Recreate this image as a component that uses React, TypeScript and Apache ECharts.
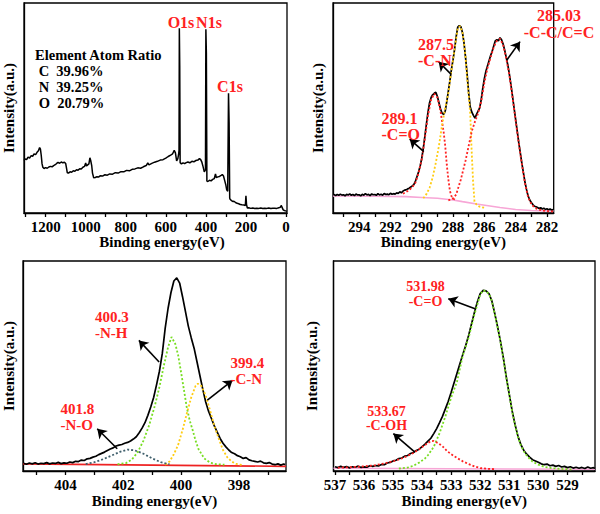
import React, { useEffect, useRef } from "react";
import * as echarts from "echarts";

const FONT = "Liberation Serif";

// ---------- Panel 1: survey spectrum [binding energy, intensity] ----------
const surveySpectrum: number[][] = [
  [1308, 25.0], [1302, 25.8], [1295, 25.4], [1288, 26.6], [1280, 26.2], [1272, 27.3], [1265, 27.0], [1258, 28.1],
  [1250, 27.8], [1243, 28.9], [1236, 29.6], [1230, 31.2], [1226, 30.4], [1222, 27.5], [1218, 23.5], [1214, 21.8],
  [1208, 21.2], [1200, 21.6], [1192, 21.3], [1184, 21.9], [1176, 22.2], [1168, 22.0], [1160, 22.6], [1152, 23.0],
  [1145, 23.6], [1138, 24.1], [1130, 23.7], [1122, 24.3], [1114, 23.9], [1106, 24.2], [1100, 23.6], [1096, 21.5],
  [1092, 19.2], [1086, 19.0], [1078, 19.6], [1070, 19.4], [1062, 20.1], [1054, 19.9], [1046, 20.6], [1038, 20.4],
  [1030, 21.1], [1022, 21.0], [1014, 21.8], [1006, 22.2], [1000, 23.8], [996, 22.4], [990, 22.9], [984, 23.4],
  [979, 26.3], [975, 25.0], [970, 22.6], [966, 19.0], [960, 16.8], [952, 16.9], [944, 17.3], [936, 17.1],
  [928, 17.7], [916, 17.6], [904, 18.2], [892, 18.0], [880, 18.6], [866, 18.5], [852, 19.2], [838, 19.0],
  [824, 19.7], [810, 19.6], [796, 20.3], [782, 20.1], [768, 20.8], [754, 21.0], [740, 21.5], [726, 21.3],
  [712, 22.0], [698, 22.6], [690, 23.8], [684, 22.9], [670, 23.6], [656, 24.2], [642, 24.6], [628, 25.2],
  [614, 25.4], [600, 26.1], [588, 26.9], [576, 27.6], [566, 28.2], [558, 29.8], [552, 28.6], [546, 24.8],
  [540, 25.9], [536, 28.0], [534, 30.0], [532.5, 88.0], [530.5, 70.0], [528.5, 24.0], [522, 23.4], [514, 23.9],
  [506, 23.5], [498, 24.0], [490, 24.3], [480, 23.9], [470, 24.6], [460, 24.4], [450, 25.0], [440, 25.2],
  [432, 25.9], [426, 25.4], [420, 24.2], [414, 22.1], [408, 19.6], [402, 20.5], [400, 87.5], [397.5, 76.0],
  [395, 15.2], [390, 15.0], [382, 15.6], [374, 15.3], [366, 16.0], [358, 16.4], [352, 18.6], [348, 16.9],
  [340, 17.2], [332, 17.4], [324, 17.9], [318, 18.3], [312, 17.6], [306, 15.4], [300, 13.2], [296, 11.0],
  [291, 10.4], [287, 57.0], [284, 43.0], [281, 7.0], [278, 6.4], [272, 5.9], [266, 5.5], [260, 5.6],
  [252, 5.0], [244, 4.6], [236, 4.4], [228, 4.0], [220, 3.9], [210, 3.8], [203, 3.6], [200, 8.2],
  [197, 4.0], [193, 2.4], [186, 2.5], [176, 2.2], [166, 2.4], [156, 2.1], [146, 2.3], [136, 2.2],
  [126, 2.4], [116, 2.1], [106, 2.3], [96, 2.2], [86, 2.4], [76, 2.1], [66, 2.3], [56, 2.3],
  [46, 2.2], [36, 2.5], [28, 2.7], [24, 3.6], [20, 2.8], [14, 1.5], [8, 1.2], [2, 1.0], [-5, 0.8],
];
const surveyLabels = [0, 200, 400, 600, 800, 1000, 1200];
const surveyTicks = [0, 100, 200, 300, 400, 500, 600, 700, 800, 900, 1000, 1100, 1200, 1300];

// ---------- Panel 2: C1s ----------
const c1sRaw: number[][] = [
  [295.65, 8.9], [295.5, 8.3], [295.4, 8.8], [295.3, 8.4], [295.2, 9.0], [295.1, 8.5], [295.0, 8.7], [294.9, 8.2],
  [294.8, 8.9], [294.7, 8.6], [294.6, 9.1], [294.5, 8.4], [294.4, 8.8], [294.3, 8.3], [294.2, 9.0], [294.1, 8.6],
  [294.0, 8.7], [293.9, 8.2], [293.8, 8.9], [293.7, 8.5], [293.6, 9.2], [293.5, 8.6], [293.4, 8.9], [293.3, 8.3],
  [293.2, 9.1], [293.1, 8.7], [293.0, 8.8], [292.9, 8.4], [292.8, 9.2], [292.7, 8.6], [292.6, 8.9], [292.5, 8.5],
  [292.4, 9.3], [292.3, 8.8], [292.2, 9.0], [292.1, 8.7], [292.0, 9.4], [291.9, 8.9], [291.8, 9.2], [291.7, 9.0],
  [291.6, 9.6], [291.5, 9.3], [291.4, 10.1], [291.3, 9.6], [291.2, 10.4], [291.1, 10.9], [291.0, 11.0], [290.9, 11.5],
  [290.8, 11.8], [290.7, 12.4], [290.6, 12.8], [290.5, 13.6], [290.4, 15.2], [290.3, 17.4], [290.2, 19.6], [290.1, 22.4],
  [290.0, 26.0], [289.9, 30.8], [289.8, 36.5], [289.7, 42.5], [289.6, 48.0], [289.5, 52.5], [289.4, 55.0], [289.3, 56.3],
  [289.2, 57.0], [289.1, 57.5], [289.0, 55.5], [288.9, 52.5], [288.8, 49.5], [288.7, 47.5], [288.6, 47.0], [288.5, 48.5],
  [288.4, 53.0], [288.3, 58.0], [288.2, 63.0], [288.1, 68.5], [288.0, 73.0], [287.9, 78.0], [287.8, 84.0], [287.7, 88.5],
  [287.6, 89.2], [287.5, 88.7], [287.4, 86.0], [287.3, 81.0], [287.2, 74.0], [287.1, 66.0], [287.0, 57.0], [286.9, 50.5],
  [286.8, 48.0], [286.7, 46.5], [286.6, 45.2], [286.5, 47.0], [286.4, 48.5], [286.3, 50.0], [286.2, 54.0], [286.1, 59.5],
  [286.0, 64.0], [285.9, 67.5], [285.8, 70.0], [285.7, 72.5], [285.6, 75.0], [285.5, 77.0], [285.4, 79.5], [285.3, 82.0],
  [285.2, 82.6], [285.1, 82.0], [285.0, 83.5], [284.9, 82.5], [284.8, 80.5], [284.7, 77.5], [284.6, 74.0], [284.5, 70.5],
  [284.4, 66.0], [284.3, 61.0], [284.2, 55.5], [284.1, 50.0], [284.0, 44.5], [283.9, 39.0], [283.8, 33.5], [283.7, 28.5],
  [283.6, 23.5], [283.5, 19.0], [283.4, 14.5], [283.3, 11.0], [283.2, 8.0], [283.1, 6.2], [283.0, 5.0], [282.9, 4.0],
  [282.8, 3.2], [282.7, 3.0], [282.6, 2.6], [282.5, 2.2], [282.4, 2.5], [282.3, 1.9], [282.2, 2.3], [282.1, 1.7],
  [282.0, 2.0], [281.9, 1.5], [281.8, 1.9], [281.7, 1.4], [281.6, 1.6],
];
const c1sPeakCO: number[][] = [
  [291.2, 9.2], [291.0, 10.0], [290.8, 11.0], [290.6, 12.3], [290.4, 14.5], [290.2, 19.0], [290.0, 25.5], [289.8, 35.5],
  [289.6, 46.5], [289.4, 54.0], [289.2, 56.8], [289.0, 55.0], [288.8, 48.5], [288.6, 38.5], [288.5, 32.0], [288.4, 23.0],
  [288.3, 16.0], [288.2, 10.5], [288.1, 8.0], [288.0, 6.8], [287.8, 6.2],
];
const c1sPeakCN: number[][] = [
  [289.9, 7.0], [289.7, 9.0], [289.5, 12.0], [289.3, 17.0], [289.1, 24.0], [288.9, 32.0], [288.7, 42.0], [288.5, 50.0],
  [288.3, 57.0], [288.1, 68.0], [287.9, 78.0], [287.7, 88.0], [287.55, 89.0], [287.4, 86.0], [287.3, 81.0], [287.2, 74.0],
  [287.1, 64.0], [287.0, 56.0], [286.9, 47.0], [286.82, 31.0], [286.72, 15.0], [286.63, 5.5], [286.5, 4.0], [286.3, 3.0],
  [286.0, 2.5],
];
const c1sPeakCC: number[][] = [
  [288.3, 6.0], [288.0, 7.0], [287.8, 8.8], [287.5, 16.0], [287.2, 25.0], [287.0, 32.0], [286.8, 39.0], [286.6, 43.5],
  [286.4, 47.5], [286.2, 53.0], [286.0, 62.0], [285.8, 69.0], [285.6, 74.0], [285.4, 79.0], [285.2, 82.0], [285.0, 83.0],
  [284.8, 80.0], [284.6, 73.5], [284.4, 65.5], [284.2, 55.0], [284.0, 44.0], [283.8, 33.0], [283.6, 23.0], [283.4, 14.0],
  [283.2, 7.5], [283.0, 4.2], [282.8, 2.6], [282.6, 1.8], [282.3, 1.2], [282.0, 0.9], [281.6, 0.7],
];
const c1sBackground: number[][] = [
  [295.67, 8.1], [293.0, 8.0], [291.0, 7.8], [290.0, 7.4], [289.0, 7.0], [288.0, 6.2], [287.4, 5.4], [286.5, 4.3],
  [285.0, 2.6], [284.0, 1.7], [283.0, 1.2], [282.0, 1.0], [281.57, 1.0],
];
const c1sLabels = [282, 284, 286, 288, 290, 292, 294];
const c1sTicks = [282, 283, 284, 285, 286, 287, 288, 289, 290, 291, 292, 293, 294, 295];
const c1sArrows = [
  [289.87, 29.2, 290.77, 35.2],
  [288.12, 66.0, 288.92, 72.0],
  [284.56, 72.9, 283.72, 81.6],
];

// ---------- Panel 3: N1s ----------
const n1sRaw: number[][] = [
  [405.45, 3.6], [405.35, 3.2], [405.25, 3.8], [405.15, 3.4], [405.05, 3.9], [404.95, 3.3], [404.85, 3.7], [404.75, 3.5],
  [404.65, 4.0], [404.55, 3.4], [404.45, 3.8], [404.35, 3.6], [404.25, 4.1], [404.15, 3.5], [404.05, 3.9], [403.95, 3.7],
  [403.85, 4.3], [403.75, 4.0], [403.65, 4.6], [403.55, 4.5], [403.45, 5.2], [403.35, 5.0], [403.25, 5.8], [403.15, 6.0],
  [403.05, 6.6], [402.95, 7.0], [402.85, 7.8], [402.75, 8.4], [402.65, 9.0], [402.55, 9.8], [402.45, 10.5], [402.35, 11.0],
  [402.25, 11.9], [402.15, 12.3], [402.05, 12.6], [401.95, 13.2], [401.85, 13.6], [401.75, 14.3], [401.65, 15.2], [401.55, 16.3],
  [401.45, 18.2], [401.35, 20.4], [401.25, 23.0], [401.15, 26.5], [401.05, 30.5], [400.95, 35.0], [400.85, 41.0], [400.75, 47.5],
  [400.65, 56.0], [400.55, 68.0], [400.45, 77.5], [400.35, 85.0], [400.25, 90.5], [400.15, 92.0], [400.05, 89.5], [399.95, 83.0],
  [399.85, 76.0], [399.75, 69.0], [399.65, 63.5], [399.55, 58.5], [399.45, 52.0], [399.35, 45.5], [399.25, 39.0], [399.15, 33.0],
  [399.05, 28.5], [398.95, 25.0], [398.85, 21.5], [398.75, 18.5], [398.65, 15.5], [398.55, 13.2], [398.45, 11.5], [398.35, 10.0],
  [398.25, 8.8], [398.15, 8.2], [398.05, 7.3], [397.95, 6.8], [397.85, 6.0], [397.75, 6.4], [397.65, 5.3], [397.55, 4.9],
  [397.45, 4.6], [397.35, 4.3], [397.25, 4.7], [397.15, 3.9], [397.05, 3.6], [396.95, 4.0], [396.85, 3.3], [396.75, 3.0],
  [396.65, 3.4], [396.55, 2.8], [396.45, 3.3], [396.4, 3.1],
];
const n1sPeakNH: number[][] = [
  [402.2, 3.2], [401.9, 3.8], [401.7, 5.5], [401.5, 9.0], [401.3, 14.5], [401.1, 22.0], [400.9, 31.5], [400.75, 40.0],
  [400.6, 50.0], [400.45, 59.0], [400.33, 63.8], [400.2, 60.5], [400.1, 55.0], [400.0, 47.0], [399.9, 38.5], [399.8, 30.0],
  [399.7, 24.0], [399.6, 19.5], [399.5, 14.5], [399.4, 10.5], [399.2, 6.0], [399.0, 4.0], [398.8, 3.3], [398.5, 3.0],
];
const n1sPeakCN: number[][] = [
  [400.55, 3.0], [400.4, 4.5], [400.25, 8.0], [400.1, 12.5], [399.95, 19.5], [399.8, 27.5], [399.65, 35.0], [399.5, 40.5],
  [399.42, 41.6], [399.3, 40.5], [399.15, 36.0], [399.0, 29.0], [398.85, 21.5], [398.7, 15.5], [398.55, 10.0], [398.4, 6.5],
  [398.25, 4.5], [398.1, 3.4], [397.9, 2.9],
];
const n1sPeakNO: number[][] = [
  [403.3, 3.3], [403.0, 4.2], [402.7, 5.6], [402.4, 7.4], [402.1, 9.2], [401.85, 10.2], [401.6, 9.8], [401.3, 8.2],
  [401.0, 6.0], [400.7, 4.2], [400.4, 3.2],
];
const n1sBackground: number[][] = [[405.47, 3.4], [396.37, 2.2]];
const n1sLabels = [398, 400, 402, 404];
const n1sTicks = [397, 398, 399, 400, 401, 402, 403, 404, 405];
const n1sArrows = [
  [402.21, 10.6, 402.9, 20.1],
  [400.76, 51.9, 401.46, 62.2],
  [399.09, 33.7, 398.22, 43.2],
];

// ---------- Panel 4: O1s ----------
const o1sRaw: number[][] = [
  [537.0, 2.0], [536.9, 1.6], [536.8, 2.2], [536.7, 1.7], [536.6, 2.1], [536.5, 1.5], [536.4, 2.0], [536.3, 1.8],
  [536.2, 2.3], [536.1, 1.7], [536.0, 2.0], [535.9, 1.8], [535.8, 2.5], [535.7, 2.2], [535.6, 2.6], [535.5, 2.4],
  [535.4, 3.1], [535.3, 3.0], [535.2, 3.8], [535.1, 4.1], [535.0, 4.8], [534.9, 5.1], [534.8, 5.9], [534.7, 6.2],
  [534.6, 7.1], [534.5, 7.4], [534.4, 8.3], [534.3, 8.8], [534.2, 9.8], [534.1, 10.4], [534.0, 11.6], [533.9, 12.8],
  [533.8, 14.2], [533.7, 15.6], [533.6, 17.8], [533.5, 20.2], [533.4, 23.0], [533.3, 26.0], [533.2, 29.6], [533.1, 33.2],
  [533.0, 37.5], [532.9, 42.0], [532.8, 46.5], [532.7, 51.1], [532.6, 55.5], [532.5, 59.8], [532.4, 64.5], [532.3, 70.0],
  [532.2, 75.5], [532.1, 80.5], [532.0, 84.5], [531.9, 86.0], [531.8, 85.8], [531.7, 84.5], [531.6, 81.0], [531.5, 75.0],
  [531.4, 68.5], [531.3, 61.5], [531.2, 53.5], [531.1, 44.5], [531.0, 36.5], [530.9, 28.5], [530.8, 22.0], [530.7, 16.5],
  [530.6, 12.5], [530.5, 9.8], [530.4, 8.0], [530.3, 6.6], [530.2, 5.4], [530.1, 4.8], [530.0, 4.2], [529.9, 3.4],
  [529.8, 3.0], [529.7, 3.3], [529.6, 2.5], [529.5, 2.8], [529.4, 2.2], [529.3, 2.6], [529.2, 1.9], [529.1, 2.2],
  [529.0, 1.6], [528.9, 2.0], [528.8, 1.4], [528.7, 1.8], [528.6, 1.3], [528.5, 1.7], [528.4, 1.2], [528.3, 1.9],
  [528.2, 1.3], [528.1, 1.6], [528.05, 1.2],
];
const o1sPeakCO: number[][] = [
  [534.8, 1.2], [534.5, 1.6], [534.3, 2.5], [534.1, 4.0], [533.9, 6.0], [533.8, 7.5], [533.6, 11.5], [533.4, 18.0],
  [533.2, 26.0], [533.0, 35.0], [532.8, 42.5], [532.6, 55.0], [532.4, 63.5], [532.2, 74.5], [532.0, 84.0], [531.9, 86.0],
  [531.8, 85.6], [531.7, 84.3], [531.6, 80.8], [531.5, 74.8], [531.4, 68.2], [531.3, 61.2], [531.2, 53.2], [531.1, 44.2],
  [531.0, 36.2], [530.9, 28.2], [530.8, 21.7], [530.7, 16.2], [530.6, 12.2], [530.5, 9.4], [530.4, 7.4], [530.3, 5.8],
  [530.2, 4.5], [530.0, 3.0], [529.8, 2.0], [529.5, 1.3], [529.0, 0.8], [528.8, 0.7],
];
const o1sPeakCOH: number[][] = [
  [536.9, 1.6], [536.5, 1.8], [536.0, 2.2], [535.6, 2.8], [535.3, 3.6], [535.0, 4.6], [534.7, 6.0], [534.5, 7.2],
  [534.3, 8.6], [534.1, 10.4], [533.9, 12.4], [533.7, 14.2], [533.6, 14.3], [533.45, 13.3], [533.3, 11.8], [533.15, 9.6],
  [533.0, 8.0], [532.8, 6.2], [532.6, 4.6], [532.4, 3.3], [532.2, 2.2], [532.0, 1.4], [531.8, 1.1], [531.5, 0.9],
];
const o1sBackground: number[][] = [[537.05, 1.3], [528.05, 0.8]];
const o1sLabels = [529, 530, 531, 532, 533, 534, 535, 536, 537];
const o1sTicks = [528.5, 529, 529.5, 530, 530.5, 531, 531.5, 532, 532.5, 533, 533.5, 534, 534.5, 535, 535.5, 536, 536.5, 537];
const o1sArrows = [
  [532.18, 77.3, 533.1, 82.0],
  [534.25, 9.0, 534.99, 17.8],
];

const RED = "#ff2222";
const YELLOW = "#ffcc11";
const GREEN = "#77dd22";
const PINK = "#f7a6d6";
const SLATE = "#3f5f6c";

export default function App() {
  const ref = useRef<HTMLDivElement>(null);

  useEffect(() => {
    const chart = echarts.init(ref.current!, null, { renderer: "svg" });

    const grids = [
      { left: 24, top: 3, width: 263, height: 210 },
      { left: 333, top: 3, width: 262, height: 210 },
      { left: 23, top: 261, width: 263, height: 210 },
      { left: 333.5, top: 261, width: 261.5, height: 210 },
    ].map((g) => ({ ...g, show: true, borderColor: "#000", borderWidth: 1.3, backgroundColor: "transparent" }));

    const axisText = { fontFamily: FONT, fontWeight: "bold" as const, fontSize: 15, color: "#000" };

    const xAx = (i: number, min: number, max: number, labels: number[], ticks: number[], nameGap: number, pad?: number[]) => ({
      type: "value",
      gridIndex: i,
      min,
      max,
      inverse: true,
      name: "Binding energy(eV)",
      nameLocation: "middle",
      nameGap,
      nameTextStyle: { ...axisText, padding: pad || [0, 0, 0, 0] },
      axisLine: { show: true, onZero: false, lineStyle: { color: "#000", width: 1.3 } },
      axisTick: { show: true, inside: false, length: 4, customValues: ticks, lineStyle: { color: "#000", width: 1.3 } },
      axisLabel: { show: true, customValues: labels, margin: 6, ...axisText, formatter: (v: number) => String(v) },
      splitLine: { show: false },
      minorTick: { show: false },
    });

    const yAx = (i: number, nameGap: number) => ({
      type: "value",
      gridIndex: i,
      min: 0,
      max: 100,
      name: "Intensity(a.u.)",
      nameLocation: "middle",
      nameGap,
      nameTextStyle: { ...axisText },
      axisLine: { show: true, onZero: false, lineStyle: { color: "#000", width: 1.3 } },
      axisTick: { show: false },
      axisLabel: { show: false },
      splitLine: { show: false },
    });

    const line = (name: string, data: number[][], i: number, color: string, width: number, type: any, z: number, arrows?: number[][]) => ({
      type: "line",
      name,
      data,
      xAxisIndex: i,
      yAxisIndex: i,
      symbol: "none",
      showSymbol: false,
      silent: true,
      z,
      lineStyle: { color, width, type },
      markLine: arrows
        ? {
            silent: true,
            symbol: ["none", "arrow"],
            symbolSize: 9,
            label: { show: false },
            lineStyle: { color: "#000", width: 1.6, type: "solid" },
            data: arrows.map((a) => [{ coord: [a[0], a[1]] }, { coord: [a[2], a[3]] }]),
          }
        : undefined,
    });

    const dot = [2, 2];

    const txt = (text: string, x: number, y: number, size: number, color: string, align = "left", lineHeight?: number) => ({
      type: "text",
      x,
      y,
      silent: true,
      z: 100,
      style: {
        text,
        fill: color,
        fontFamily: FONT,
        fontWeight: "bold",
        fontSize: size,
        lineHeight: lineHeight || size,
        align,
        verticalAlign: "middle",
      },
    });

    const option: any = {
      animation: false,
      backgroundColor: "#fff",
      textStyle: { fontFamily: FONT },
      grid: grids,
      xAxis: [
        xAx(0, -5, 1308, surveyLabels, surveyTicks, 17, [0, 0, 0, 13]),
        xAx(1, 281.57, 295.67, c1sLabels, c1sTicks, 17),
        xAx(2, 396.37, 405.47, n1sLabels, n1sTicks, 22),
        xAx(3, 528.05, 537.05, o1sLabels, o1sTicks, 22),
      ],
      yAxis: [yAx(0, 8), yAx(1, 8), yAx(2, 7), yAx(3, 14)],
      series: [
        line("Survey", surveySpectrum, 0, "#000", 1.5, "solid", 3),

        line("C1s raw", c1sRaw, 1, "#000", 1.7, "solid", 3, c1sArrows),
        line("C1s background", c1sBackground, 1, PINK, 1.6, "solid", 2),
        line("-C=O", c1sPeakCO, 1, RED, 1.8, dot, 4),
        line("-C-N", c1sPeakCN, 1, YELLOW, 1.8, dot, 4),
        line("-C-C/C=C", c1sPeakCC, 1, RED, 1.8, dot, 4),

        line("N1s raw", n1sRaw, 2, "#000", 1.7, "solid", 3, n1sArrows),
        line("N1s background", n1sBackground, 2, "#ee2222", 1.6, "solid", 2),
        line("-N-H", n1sPeakNH, 2, GREEN, 1.8, dot, 4),
        line("-C-N", n1sPeakCN, 2, YELLOW, 1.8, dot, 4),
        line("-N-O", n1sPeakNO, 2, SLATE, 1.8, dot, 4),

        line("O1s raw", o1sRaw, 3, "#000", 1.7, "solid", 3, o1sArrows),
        line("O1s background", o1sBackground, 3, PINK, 1.6, "solid", 2),
        line("-C=O", o1sPeakCO, 3, GREEN, 1.8, dot, 4),
        line("-C-OH", o1sPeakCOH, 3, RED, 1.8, dot, 4),
      ],
      graphic: [
        txt("O1s", 181, 22.5, 16, RED, "center"),
        txt("N1s", 209, 22.5, 16, RED, "center"),
        txt("C1s", 230, 86.5, 16, RED, "center"),
        txt("Element Atom Ratio", 35, 55, 14.5, "#000"),
        txt(" C  39.96%\n N  39.25%\n O  20.79%", 35, 86.5, 14.5, "#000", "left", 16),

        txt("285.03\n-C-C/C=C", 559, 23.5, 16, RED, "center", 17),
        txt("287.5\n-C-N", 418, 52.5, 16, RED, "left", 16),
        txt("289.1\n-C=O", 381.5, 126.3, 16, RED, "left", 16),

        txt("400.3\n-N-H", 95, 325.2, 15, RED, "left", 16.5),
        txt("399.4\n-C-N", 230.5, 371, 15, RED, "left", 15.5),
        txt("401.8\n-N-O", 60.5, 417, 15, RED, "left", 16),

        txt("531.98\n-C=O", 425.5, 294, 14, RED, "center", 14.5),
        txt("533.67\n-C-OH", 386.5, 418.7, 14, RED, "center", 14.2),
      ],
    };

    chart.setOption(option);
    return () => chart.dispose();
  }, []);

  return (
    <div
      ref={ref}
      style={{ position: "absolute", left: 0, top: 0, width: 600, height: 514, background: "#fff" }}
    />
  );
}
